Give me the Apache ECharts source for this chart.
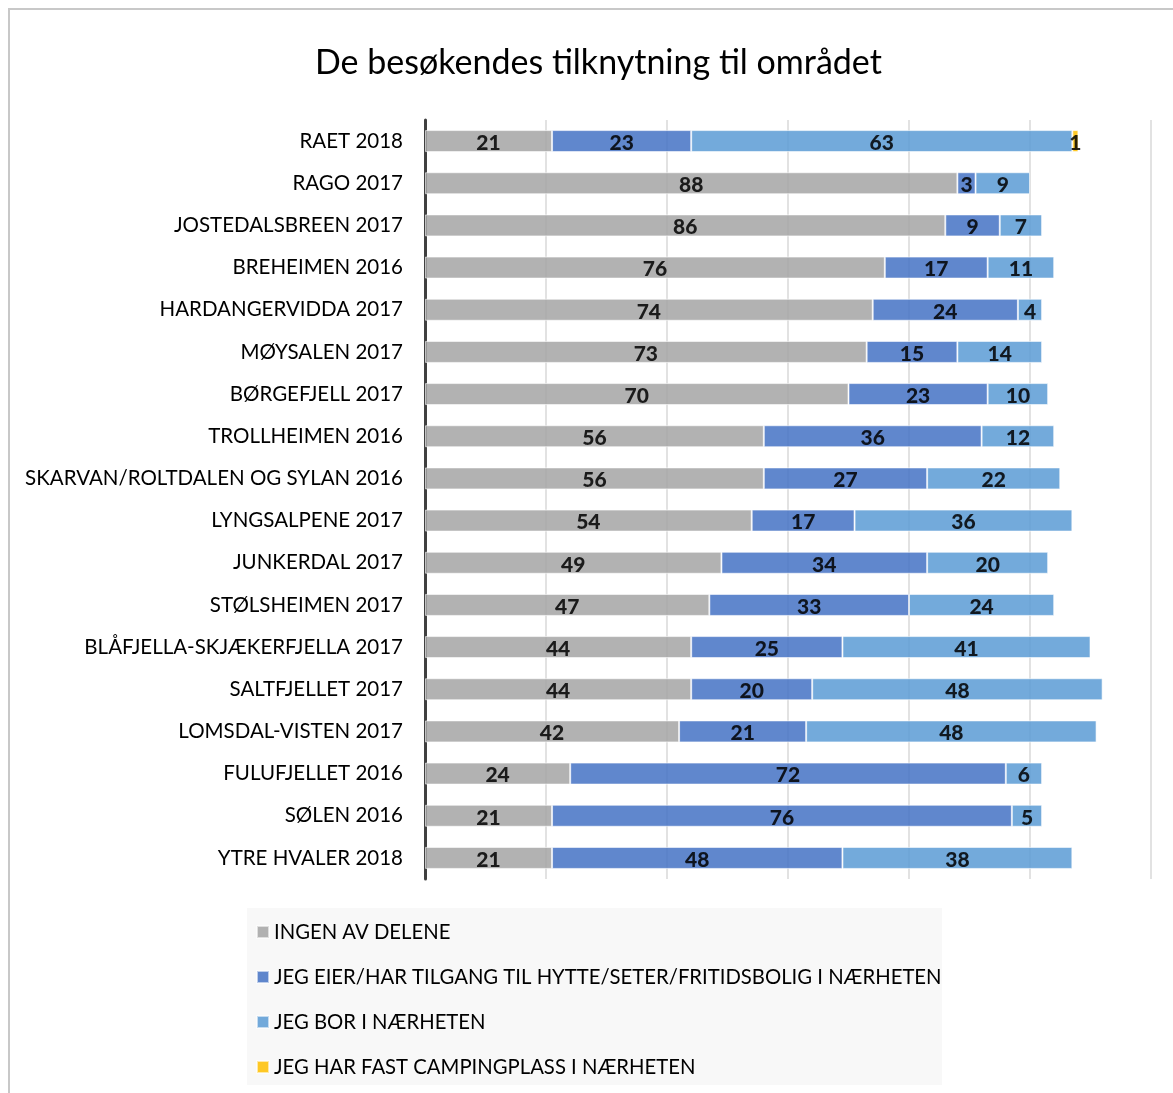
<!DOCTYPE html>
<html><head><meta charset="utf-8">
<script src="https://cdn.jsdelivr.net/npm/echarts@6/dist/echarts.min.js"></script>
<style>html,body{margin:0;padding:0;background:#fff}#c{width:1173px;height:1093px}</style>
</head><body><div id="c"></div>
<script>
var categories = ["RAET 2018","RAGO 2017","JOSTEDALSBREEN 2017","BREHEIMEN 2016","HARDANGERVIDDA 2017","MØYSALEN 2017","BØRGEFJELL 2017","TROLLHEIMEN 2016","SKARVAN/ROLTDALEN OG SYLAN 2016","LYNGSALPENE 2017","JUNKERDAL 2017","STØLSHEIMEN 2017","BLÅFJELLA-SKJÆKERFJELLA 2017","SALTFJELLET 2017","LOMSDAL-VISTEN 2017","FULUFJELLET 2016","SØLEN 2016","YTRE HVALER 2018"];
var ingen   = [21,88,86,76,74,73,70,56,56,54,49,47,44,44,42,24,21,21];
var hytte   = [23,3,9,17,24,15,23,36,27,17,34,33,25,20,21,72,76,48];
var bor     = [63,9,7,11,4,14,10,12,22,36,20,24,41,48,48,6,5,38];
var camping = [1,null,null,null,null,null,null,null,null,null,null,null,null,null,null,null,null,null];
var seriesNames = ["INGEN AV DELENE","JEG EIER/HAR TILGANG TIL HYTTE/SETER/FRITIDSBOLIG I NÆRHETEN","JEG BOR I NÆRHETEN","JEG HAR FAST CAMPINGPLASS I NÆRHETEN"];
var colors = ["#A5A5A5","#4472C4","#5B9BD5","#FFC000"];
var FONT = "Lato";
function mk(name, data, color){
  return {
    name: name, type: 'bar', stack: 's', data: data, barWidth: 22,
    itemStyle: {color: color, opacity: 0.85, borderColor: 'rgba(255,255,255,0.7)', borderWidth: 1},
    label: {show: true, position: 'inside', offset: [0, 2], color: '#000', fontFamily: FONT, fontWeight: 900, fontSize: 21,
      formatter: function(p){ return p.value == null ? '' : p.value; }},
    emphasis: {disabled: true}
  };
}
var chart = echarts.init(document.getElementById('c'));
chart.setOption({
  animation: false,
  backgroundColor: '#fff',
  color: colors,
  title: {text: 'De besøkendes tilknytning til området', left: 310, top: 41,
    textStyle: {fontFamily: FONT, fontWeight: 'normal', fontSize: 34, color: '#000'}},
  graphic: [
    {type: 'polyline', shape: {points: [[9,1093],[9,9],[1173,9]]}, style: {stroke: '#C8C8C8', lineWidth: 2, fill: null}, z: -10},
    {type: 'rect', shape: {x: 247, y: 908, width: 695, height: 177}, style: {fill: '#F8F8F8'}, z: -10}
  ],
  grid: {left: 425, right: 22, top: 120, bottom: 214},
  xAxis: {type: 'value', min: 0, max: 120, interval: 20,
    axisLabel: {show: false}, axisLine: {show: false}, axisTick: {show: false},
    splitLine: {show: true, lineStyle: {color: '#D9D9D9', width: 1.5}}},
  yAxis: {type: 'category', data: categories, inverse: true,
    axisLine: {show: true, lineStyle: {color: '#404040', width: 3}}, axisTick: {show: false},
    axisLabel: {color: '#000', fontFamily: FONT, fontSize: 20.5, margin: 22}},
  legend: {orient: 'vertical', left: 256, top: 920, itemWidth: 12, itemHeight: 12, icon: 'rect', itemGap: 21, padding: 0,
    textStyle: {fontFamily: FONT, fontSize: 20.3, color: '#000', height: 24, lineHeight: 24}, data: seriesNames, selectedMode: false},
  series: [mk(seriesNames[0], ingen, colors[0]), mk(seriesNames[1], hytte, colors[1]), mk(seriesNames[2], bor, colors[2]), mk(seriesNames[3], camping, colors[3])]
});
</script></body></html>
